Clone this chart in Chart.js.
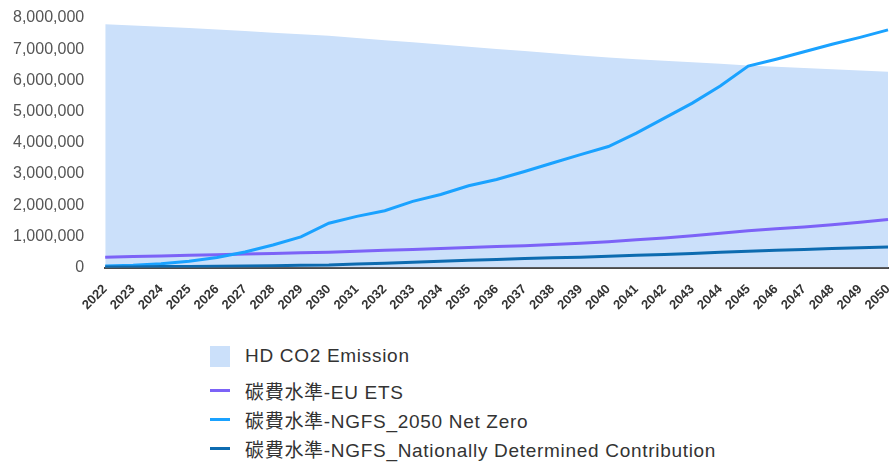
<!DOCTYPE html>
<html lang="zh-Hant">
<head>
    <meta charset="UTF-8">
    <title>HD CO2 Emission</title>
    <script src="https://cdn.jsdelivr.net/npm/chart.js@4"></script>
    <style>
        body { margin: 0; background: #fff; font-family: "Liberation Sans", "Noto Sans CJK TC", sans-serif; }
        .chart-box { position: relative; width: 892px; height: 319px; }
        #legend { list-style: none; margin: 17px 0 0 0; padding: 0 0 0 210px; }
        #legend li { display: flex; align-items: center; height: 29px; font-size: 19px; color: #333;
            letter-spacing: 0.7px; font-family: "Liberation Sans", "Noto Sans CJK TC", sans-serif; }
        #legend li:first-child { height: 40px; }
        #legend .swatch { display: inline-block; width: 20px; margin-right: 15px; }
    </style>
</head>
<body>
<div class="chart-box">
    <canvas id="co2Chart"></canvas>
</div>
<ul id="legend"></ul>
<script>
    const years = ['2022','2023','2024','2025','2026','2027','2028','2029','2030','2031','2032','2033','2034','2035',
        '2036','2037','2038','2039','2040','2041','2042','2043','2044','2045','2046','2047','2048','2049','2050'];

    // HD CO2 emission (area)
    const hdEmission = [7800000, 7760000, 7720000, 7680000, 7630000, 7580000, 7530000, 7480000, 7430000, 7360000,
        7290000, 7220000, 7150000, 7080000, 7010000, 6940000, 6870000, 6800000, 6730000, 6680000,
        6630000, 6580000, 6530000, 6480000, 6440000, 6400000, 6360000, 6320000, 6280000];

    // 碳費水準 series
    const euEts = [330000, 350000, 370000, 390000, 410000, 430000, 450000, 470000, 490000, 520000,
        550000, 580000, 610000, 640000, 670000, 700000, 740000, 780000, 830000, 890000,
        950000, 1020000, 1100000, 1180000, 1240000, 1300000, 1370000, 1450000, 1540000];
    const ngfsNetZero = [50000, 70000, 120000, 200000, 320000, 500000, 720000, 980000, 1420000, 1640000,
        1820000, 2120000, 2340000, 2620000, 2820000, 3080000, 3350000, 3620000, 3880000, 4310000,
        4790000, 5270000, 5820000, 6460000, 6680000, 6920000, 7160000, 7380000, 7620000];
    const ngfsNdc = [20000, 20000, 30000, 30000, 40000, 50000, 60000, 70000, 80000, 110000,
        140000, 170000, 200000, 230000, 260000, 290000, 310000, 330000, 360000, 390000,
        420000, 450000, 490000, 520000, 550000, 580000, 610000, 630000, 660000];

    const yTicks = [0, 1000000, 2000000, 3000000, 4000000, 5000000, 6000000, 7000000, 8000000];

    const ctx = document.getElementById('co2Chart').getContext('2d');
    const chart = new Chart(ctx, {
        type: 'line',
        data: {
            labels: years,
            datasets: [
                {
                    label: '碳費水準-NGFS_Nationally Determined Contribution',
                    data: ngfsNdc,
                    borderColor: '#0d6bb0',
                    backgroundColor: '#0d6bb0',
                    borderWidth: 3,
                    pointRadius: 0,
                    fill: false,
                    order: 1
                },
                {
                    label: '碳費水準-NGFS_2050 Net Zero',
                    data: ngfsNetZero,
                    borderColor: '#1aa2ff',
                    backgroundColor: '#1aa2ff',
                    borderWidth: 3,
                    pointRadius: 0,
                    fill: false,
                    order: 2
                },
                {
                    label: '碳費水準-EU ETS',
                    data: euEts,
                    borderColor: '#7c63f7',
                    backgroundColor: '#7c63f7',
                    borderWidth: 3,
                    pointRadius: 0,
                    fill: false,
                    order: 3
                },
                {
                    label: 'HD CO2 Emission',
                    data: hdEmission,
                    borderWidth: 0,
                    borderColor: 'rgba(0,0,0,0)',
                    backgroundColor: '#cbe0fa',
                    pointRadius: 0,
                    fill: 'origin',
                    order: 4
                }
            ]
        },
        options: {
            responsive: true,
            maintainAspectRatio: false,
            animation: false,
            layout: { padding: 0 },
            plugins: {
                legend: { display: false },
                tooltip: { enabled: false }
            },
            scales: {
                x: {
                    offset: false,
                    grid: { display: false },
                    border: { display: true, color: '#4a4a4a', width: 2 },
                    afterFit: axis => { axis.paddingRight = 4; },
                    ticks: {
                        autoSkip: false,
                        maxRotation: 45,
                        minRotation: 45,
                        padding: 6,
                        color: '#333',
                        font: { family: 'Liberation Sans', size: 13, weight: 'bold' }
                    }
                },
                y: {
                    min: 0,
                    max: 8000000,
                    grid: { display: false },
                    border: { display: false },
                    afterBuildTicks: axis => { axis.ticks = yTicks.map(v => ({ value: v })); },
                    afterFit: axis => { axis.paddingTop = 18; },
                    ticks: {
                        padding: 13,
                        color: '#555',
                        font: { family: 'Liberation Sans', size: 16 },
                        callback: v => v.toLocaleString('en-US')
                    }
                }
            }
        }
    });

    // vertical legend under the chart, built from the datasets
    const legendOrder = ['HD CO2 Emission', '碳費水準-EU ETS', '碳費水準-NGFS_2050 Net Zero',
        '碳費水準-NGFS_Nationally Determined Contribution'];
    const legendEl = document.getElementById('legend');
    legendOrder.forEach(name => {
        const ds = chart.data.datasets.find(d => d.label === name);
        const li = document.createElement('li');
        const sw = document.createElement('span');
        sw.className = 'swatch';
        sw.style.background = ds.backgroundColor;
        sw.style.height = ds.fill ? '21px' : '3px';
        li.appendChild(sw);
        li.appendChild(document.createTextNode(name));
        legendEl.appendChild(li);
    });
</script>
</body>
</html>
